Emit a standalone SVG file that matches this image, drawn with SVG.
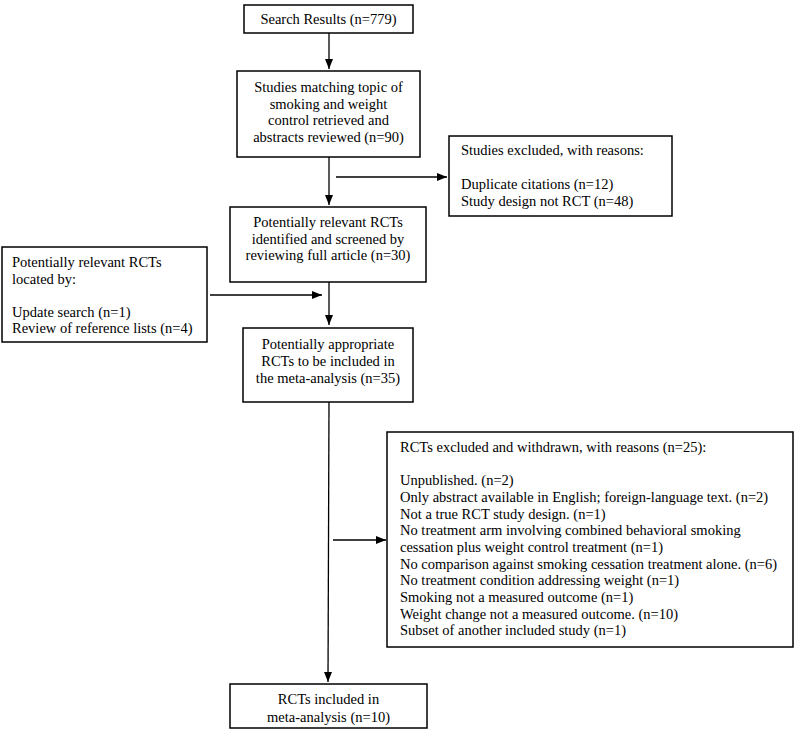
<svg xmlns="http://www.w3.org/2000/svg" width="800" height="733" viewBox="0 0 800 733">
<style>
.b{fill:#fff;stroke:#000;stroke-width:1.5}
.c{text-anchor:middle}
.e line{stroke:#000;stroke-width:1.3}
</style>
<defs>
<marker id="a" viewBox="0 0 10 8" refX="10" refY="4" markerWidth="10" markerHeight="8" markerUnits="userSpaceOnUse" orient="auto">
<path d="M0,0L10,4L0,8z" fill="#000"/>
</marker>
</defs>
<rect width="800" height="733" fill="#fff"/>
<g class="e" id="connectors">
<line x1="329" y1="33" x2="329" y2="69" marker-end="url(#a)"/>
<line x1="329" y1="157" x2="329" y2="205" marker-end="url(#a)"/>
<line x1="336" y1="177" x2="447" y2="177" marker-end="url(#a)"/>
<line x1="210" y1="295" x2="322" y2="295" marker-end="url(#a)"/>
<line x1="329" y1="282" x2="329" y2="325" marker-end="url(#a)"/>
<line x1="329" y1="402" x2="328" y2="682" marker-end="url(#a)"/>
<line x1="333" y1="540" x2="386" y2="540" marker-end="url(#a)"/>
</g>
<g font-family="'Liberation Serif', 'Times New Roman', serif" font-size="14.5" fill="#000">
<g id="n1"><rect class="b" x="244" y="5" width="169" height="28"/>
<text class="c" x="328.5" y="24">Search Results (n=779)</text></g>
<g id="n2"><rect class="b" x="237" y="71" width="183" height="86"/>
<text class="c" x="328.5" y="92">Studies matching topic of</text>
<text class="c" x="328.5" y="108.5">smoking and weight</text>
<text class="c" x="328.5" y="125">control retrieved and</text>
<text class="c" x="328.5" y="141.5">abstracts reviewed (n=90)</text></g>
<g id="n3"><rect class="b" x="449" y="136" width="223" height="80"/>
<text x="461" y="155">Studies excluded, with reasons:</text>
<text x="461" y="189">Duplicate citations (n=12)</text>
<text x="461" y="206">Study design not RCT (n=48)</text></g>
<g id="n4"><rect class="b" x="230" y="207" width="196" height="75"/>
<text class="c" x="328" y="227">Potentially relevant RCTs</text>
<text class="c" x="328" y="243.5">identified and screened by</text>
<text class="c" x="328" y="260">reviewing full article (n=30)</text></g>
<g id="n5"><rect class="b" x="2" y="247" width="205" height="95"/>
<text x="12" y="267">Potentially relevant RCTs</text>
<text x="12" y="284">located by:</text>
<text x="12" y="317">Update search (n=1)</text>
<text x="12" y="333">Review of reference lists (n=4)</text></g>
<g id="n6"><rect class="b" x="243" y="328" width="170" height="74"/>
<text class="c" x="328" y="349">Potentially appropriate</text>
<text class="c" x="328" y="366">RCTs to be included in</text>
<text class="c" x="328" y="383">the meta-analysis (n=35)</text></g>
<g id="n7"><rect class="b" x="387" y="432" width="406" height="215"/>
<text x="400" y="452">RCTs excluded and withdrawn, with reasons (n=25):</text>
<text x="400" y="485">Unpublished. (n=2)</text>
<text x="400" y="502">Only abstract available in English; foreign-language text. (n=2)</text>
<text x="400" y="518.5">Not a true RCT study design. (n=1)</text>
<text x="400" y="535">No treatment arm involving combined behavioral smoking</text>
<text x="400" y="552">cessation plus weight control treatment (n=1)</text>
<text x="400" y="568.5">No comparison against smoking cessation treatment alone. (n=6)</text>
<text x="400" y="585">No treatment condition addressing weight (n=1)</text>
<text x="400" y="602">Smoking not a measured outcome (n=1)</text>
<text x="400" y="618.5">Weight change not a measured outcome. (n=10)</text>
<text x="400" y="635">Subset of another included study (n=1)</text></g>
<g id="n8"><rect class="b" x="230" y="684" width="197" height="44"/>
<text class="c" x="328.5" y="704">RCTs included in</text>
<text class="c" x="328.5" y="722">meta-analysis (n=10)</text></g>
</g>
</svg>
